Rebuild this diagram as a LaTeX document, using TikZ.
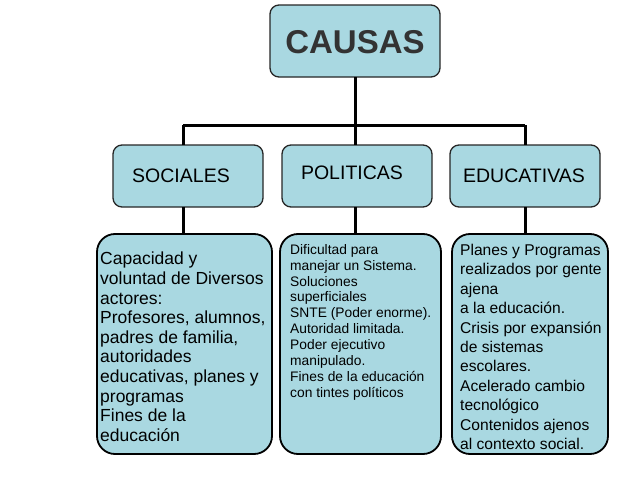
\documentclass[tikz,border=0pt]{standalone}
\usepackage{fontspec}
\setmainfont{Liberation Sans}
\tikzset{
 box/.style={draw=black!85, line width=1.3pt, fill=boxblue, rounded corners=9pt},
 bigbox/.style={draw=black, line width=1.8pt, fill=boxblue, rounded corners=18pt},
 conn/.style={line width=3pt, black},
 txt/.style={anchor=north west, align=left, inner sep=0pt},
}
\definecolor{boxblue}{HTML}{A9D8E1}
\begin{document}
\begin{tikzpicture}[x=1pt,y=-1pt]
\useasboundingbox (0,0) rectangle (638,479);
% top
\draw[box] (270,5) rectangle (440,77);
\node[font=\fontsize{33}{33}\selectfont\bfseries, text=black!80] (causas) at (355,42) {CAUSAS};
\coordinate (ct) at (355,77);
\coordinate (bar) at (355,125);
\coordinate (bl) at (183,125);
\coordinate (br) at (525,125);
% middle row
\draw[box] (113,145) rectangle (263,207);
\draw[box] (282,145) rectangle (432,207);
\draw[box] (450,145) rectangle (600,207);
\node[font=\fontsize{19.5}{19.5}\selectfont] (soc) at (181,176) {SOCIALES};
\node[font=\fontsize{19.5}{19.5}\selectfont] (pol) at (352,173) {POLITICAS};
\node[font=\fontsize{19.5}{19.5}\selectfont] (edu) at (524,176) {EDUCATIVAS};
\coordinate (s1) at (183,145); \coordinate (s2) at (183,207);
\coordinate (p1) at (355,145); \coordinate (p2) at (355,207);
\coordinate (e1) at (525,145); \coordinate (e2) at (525,207);
\coordinate (s3) at (183,234); \coordinate (p3) at (355,234); \coordinate (e3) at (525,234);
\draw[conn] (ct) -- (bar);
\draw[conn] (bl) -- (br);
\draw[conn] (bl) -- (s1);
\draw[conn] (bar) -- (p1);
\draw[conn] (br) -- (e1);
\draw[conn] (s2) -- (s3);
\draw[conn] (p2) -- (p3);
\draw[conn] (e2) -- (e3);
% bottom row
\draw[bigbox] (97,234) rectangle (272,454);
\draw[bigbox] (280,234) rectangle (441,454);
\draw[bigbox] (452,234) rectangle (608,454);
\node[txt, font=\fontsize{17.5}{19.6}\selectfont] (t1) at (100,252) {Capacidad y\\voluntad de Diversos\\actores:\\Profesores, alumnos,\\padres de familia,\\autoridades\\educativas, planes y\\programas\\Fines de la\\educación};
\node[txt, font=\fontsize{13.8}{15.9}\selectfont] (t2) at (290,244) {Dificultad para\\manejar un Sistema.\\Soluciones\\superficiales\\SNTE (Poder enorme).\\Autoridad limitada.\\Poder ejecutivo\\manipulado.\\Fines de la educación\\con tintes políticos};
\node[txt, font=\fontsize{15.6}{19.4}\selectfont] (t3) at (460,244) {Planes y Programas\\realizados por gente\\ajena\\a la educación.\\Crisis por expansión\\de sistemas\\escolares.\\Acelerado cambio\\tecnológico\\Contenidos ajenos\\al contexto social.};
\end{tikzpicture}
\end{document}
